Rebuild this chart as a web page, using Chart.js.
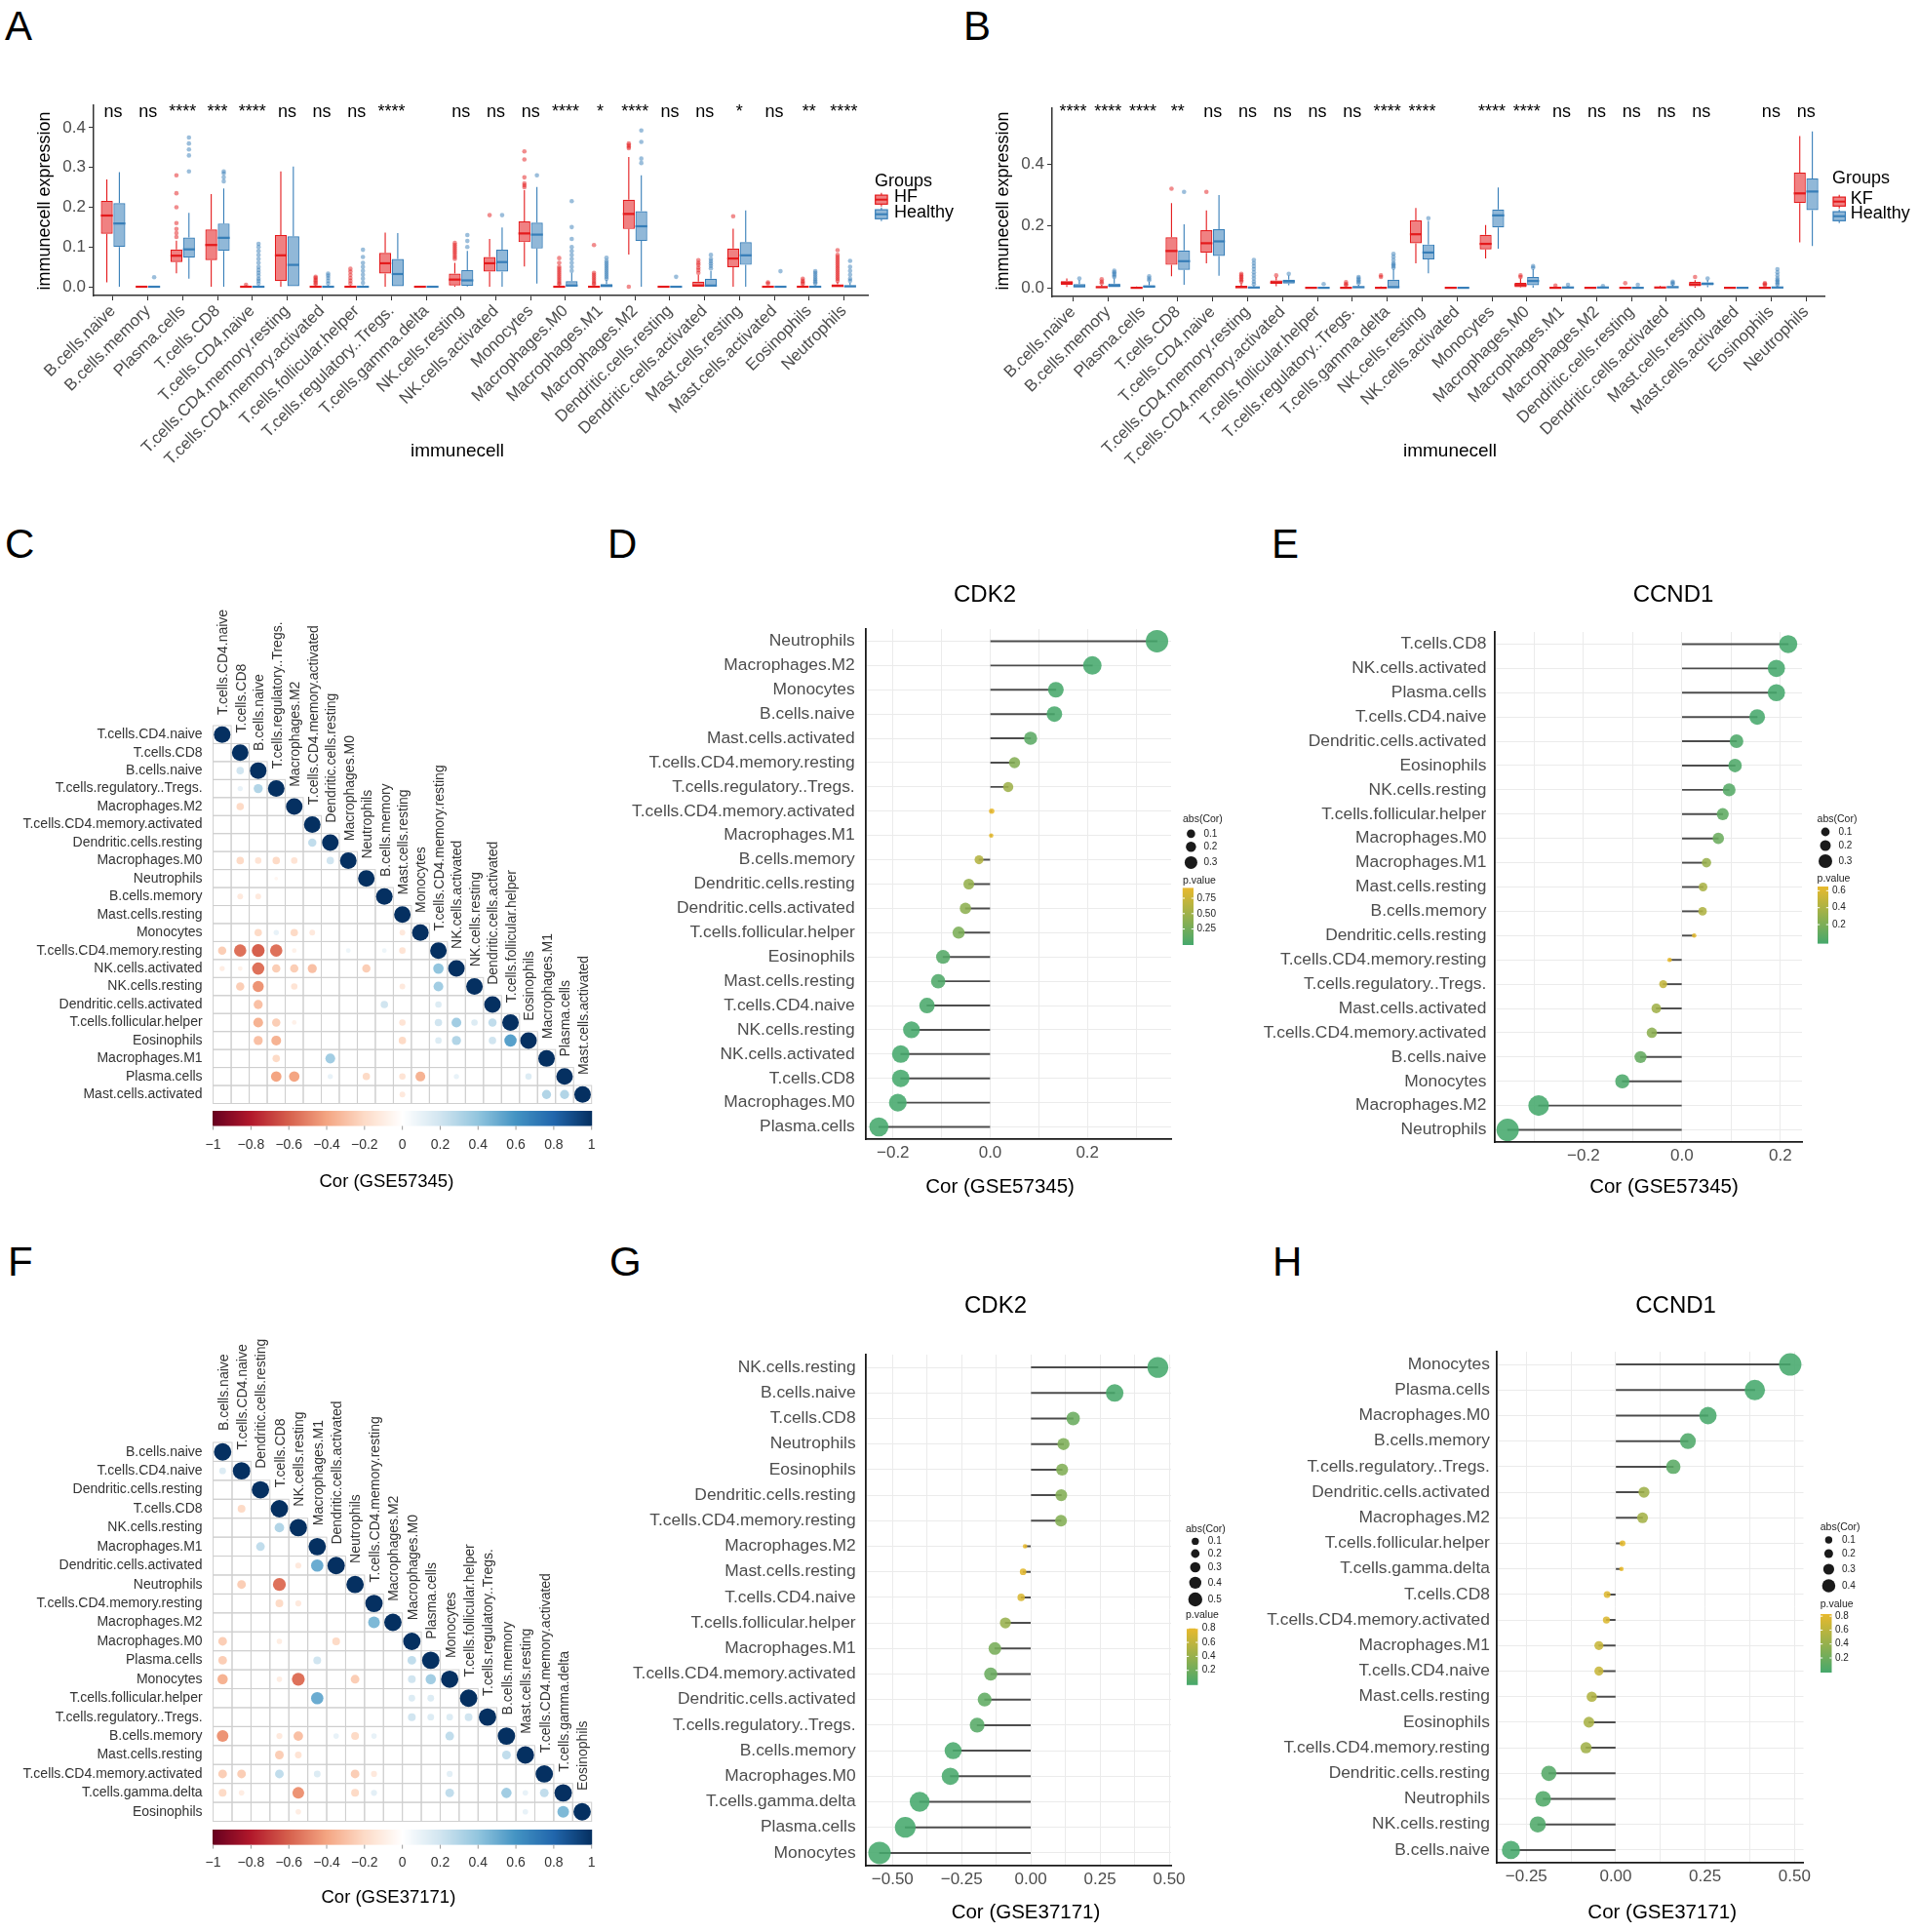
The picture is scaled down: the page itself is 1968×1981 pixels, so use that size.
<!DOCTYPE html>
<html>
<head>
<meta charset="utf-8">
<script src="https://cdn.jsdelivr.net/npm/chart.js@4.4.1/dist/chart.umd.min.js"></script>
<style>
  html, body { margin: 0; padding: 0; background: #fff; overflow: hidden; }
  body { width: 1968px; height: 1981px; position: relative; font-family: "Liberation Sans", Arial, sans-serif; }
  .tag { position: absolute; font-size: 42px; line-height: 1; color: #000; }
</style>
</head>
<body>
<div class="tag" style="left:5px;top:6px">A</div>
<div class="tag" style="left:988px;top:6px">B</div>
<div class="tag" style="left:5px;top:537px">C</div>
<div class="tag" style="left:623px;top:537px">D</div>
<div class="tag" style="left:1304px;top:537px">E</div>
<div class="tag" style="left:8px;top:1273px">F</div>
<div class="tag" style="left:625px;top:1273px">G</div>
<div class="tag" style="left:1305px;top:1273px">H</div>
<script>
// ---------- data: boxplots (A: HF vs Healthy, B: KF vs Healthy) ----------
const immuneCells = ['B.cells.naive','B.cells.memory','Plasma.cells','T.cells.CD8','T.cells.CD4.naive',
  'T.cells.CD4.memory.resting','T.cells.CD4.memory.activated','T.cells.follicular.helper',
  'T.cells.regulatory..Tregs.','T.cells.gamma.delta','NK.cells.resting','NK.cells.activated','Monocytes',
  'Macrophages.M0','Macrophages.M1','Macrophages.M2','Dendritic.cells.resting','Dendritic.cells.activated',
  'Mast.cells.resting','Mast.cells.activated','Eosinophils','Neutrophils'];

const sigA = ['ns','ns','****','***','****','ns','ns','ns','****','','ns','ns','ns','****','*','****','ns','ns','*','ns','**','****'];
const sigB = ['****','****','****','**','ns','ns','ns','ns','ns','****','****','','****','****','ns','ns','ns','ns','ns','','ns','ns'];

const hfQ1  = [0.133,0,0.062,0.067,0,0.014,0,0,0.033,0,0.003,0.038,0.112,0,0,0.145,0,0,0.049,0,0,0];
const hfMed = [0.179,0,0.078,0.105,0,0.079,0,0,0.059,0,0.018,0.059,0.134,0,0,0.183,0,0.003,0.071,0,0,0.002];
const hfQ3  = [0.216,0,0.094,0.144,0.002,0.130,0.002,0.002,0.085,0,0.033,0.075,0.164,0.002,0.002,0.219,0,0.013,0.096,0,0.002,0.006];
const hfLo  = [0.011,0,0.034,0,0,0,0,0,0,0,0,0,0.051,0,0,0.081,0,0,0,0,0,0];
const hfHi  = [0.270,0,0.116,0.233,0.004,0.290,0.004,0.004,0.136,0,0.060,0.120,0.243,0.004,0.004,0.326,0,0.030,0.146,0,0.004,0.012];
const hfOut = [[],[],[0.125,0.135,0.145,0.16,0.2,0.235,0.28],[],[0.005],[],
  [0.006,0.01,0.014,0.018,0.022,0.025],[0.008,0.015,0.022,0.03,0.038,0.045],[],[],
  [0.07,0.075,0.08,0.085,0.09,0.095,0.1,0.105,0.11],[0.18],[0.25,0.255,0.26,0.275,0.32,0.34],
  [0.006,0.01,0.015,0.02,0.025,0.03,0.035,0.04,0.045,0.05,0.06,0.072],
  [0.006,0.01,0.015,0.02,0.025,0.03,0.035,0.105],[0,0.348,0.352,0.356,0.36],[],
  [0.035,0.042,0.048,0.055,0.06,0.067],[0.177],[0.008,0.011],[0.007,0.011,0.015,0.02],
  [0.015,0.02,0.025,0.03,0.035,0.04,0.045,0.05,0.055,0.06,0.065,0.07,0.075,0.08,0.092]];

const hyQ1  = [0.100,0,0.073,0.090,0,0,0,0,0,0,0.002,0.038,0.096,0,0,0.115,0,0,0.055,0,0,0];
const hyMed = [0.159,0,0.094,0.123,0,0.055,0,0,0.032,0,0.016,0.062,0.131,0.003,0.002,0.152,0,0.003,0.079,0,0,0.001];
const hyQ3  = [0.210,0,0.124,0.159,0.002,0.127,0.002,0.002,0.070,0,0.042,0.093,0.161,0.014,0.007,0.190,0,0.020,0.112,0,0.002,0.004];
const hyLo  = [0,0,0.020,0,0,0,0,0,0,0,0,0,0.008,0,0,0,0,0,0,0,0,0];
const hyHi  = [0.288,0,0.186,0.247,0.004,0.302,0.004,0.004,0.135,0,0.090,0.149,0.251,0.035,0.017,0.280,0,0.040,0.192,0,0.004,0.010];
const hyOut = [[],[0.024],[0.29,0.33,0.345,0.36,0.375],[0.265,0.275,0.285,0.29],
  [0.008,0.015,0.02,0.028,0.035,0.042,0.05,0.06,0.07,0.08,0.09,0.1,0.108],[],
  [0.008,0.015,0.022,0.028,0.033],[0.01,0.02,0.03,0.04,0.05,0.06,0.075,0.093],[],[],
  [0.1,0.115,0.13],[0.18],[0.28],[0.04,0.05,0.06,0.07,0.08,0.09,0.1,0.12,0.15,0.215],
  [0.02,0.025,0.03,0.035,0.04,0.045,0.05,0.055,0.06,0.065,0.073],[0.311,0.322,0.364,0.393],[0.025],
  [0.046,0.052,0.058,0.064,0.07,0.08],[],[0.039],[0.008,0.012,0.016,0.02,0.025,0.03,0.035,0.039],
  [0.015,0.02,0.03,0.04,0.05,0.065]];

const kfQ1  = [0.009,0,0,0.074,0.113,0,0.013,0,0,0,0.144,0,0.124,0.002,0,0,0,0,0.005,0,0,0.274];
const kfMed = [0.016,0.002,0,0.119,0.144,0.002,0.017,0,0,0,0.173,0,0.142,0.009,0,0,0,0.001,0.011,0,0,0.305];
const kfQ3  = [0.022,0.005,0.002,0.163,0.186,0.007,0.024,0,0.002,0.002,0.218,0,0.171,0.016,0.002,0,0,0.003,0.019,0,0.002,0.372];
const kfLo  = [0.003,0,0,0.037,0.079,0,0.005,0,0,0,0.079,0,0.095,0,0,0,0,0,0,0,0,0.147];
const kfHi  = [0.030,0.010,0.004,0.274,0.250,0.015,0.035,0,0.004,0.004,0.258,0,0.203,0.030,0.004,0,0,0.006,0.025,0,0.004,0.490];
const kfOut = [[],[0.015,0.02,0.028],[],[0.32],[0.31],[0.02,0.025,0.03,0.035,0.04,0.045],[0.04],[],
  [0.008,0.012,0.018],[0.035,0.04],[],[],[],[0.035,0.04],[0.007],[],[0.015],[],[0.035],[],
  [0.008,0.012,0.015],[]];

const hbQ1  = [0,0,0.001,0.058,0.103,0,0.014,0,0,0,0.092,0,0.195,0.008,0,0,0,0,0.008,0,0,0.251];
const hbMed = [0.005,0.007,0.004,0.086,0.150,0.001,0.021,0,0.002,0.002,0.114,0,0.234,0.022,0.001,0.001,0,0.002,0.013,0,0.001,0.311];
const hbQ3  = [0.012,0.014,0.008,0.121,0.189,0.004,0.026,0.001,0.005,0.026,0.140,0,0.253,0.035,0.003,0.002,0.001,0.005,0.018,0,0.003,0.353];
const hbLo  = [0,0,0,0.010,0.039,0,0.008,0,0,0,0.047,0,0.126,0,0,0,0,0,0.002,0,0,0.135];
const hbHi  = [0.025,0.030,0.020,0.205,0.300,0.008,0.040,0.002,0.010,0.060,0.216,0,0.324,0.060,0.006,0.004,0.002,0.010,0.025,0,0.006,0.505];
const hbOut = [[0.03],[0.035,0.04,0.045,0.05,0.055],[0.025,0.03,0.037],[0.31],[],
  [0.012,0.02,0.03,0.04,0.05,0.06,0.07,0.08,0.09],[0.045],[0.012],[0.015,0.02,0.025,0.03,0.035],
  [0.065,0.07,0.075,0.08,0.09,0.1,0.11],[0.225],[],[],[0.065,0.07],[0.01],[0.006],[0.01],
  [0.012,0.016,0.02],[0.03],[],[0.01,0.015,0.02,0.025,0.03,0.04,0.05,0.06],[]];

// ---------- data: correlation matrices (C: GSE57345, F: GSE37171) ----------
const namesC = ['T.cells.CD4.naive','T.cells.CD8','B.cells.naive','T.cells.regulatory..Tregs.','Macrophages.M2',
  'T.cells.CD4.memory.activated','Dendritic.cells.resting','Macrophages.M0','Neutrophils','B.cells.memory',
  'Mast.cells.resting','Monocytes','T.cells.CD4.memory.resting','NK.cells.activated','NK.cells.resting',
  'Dendritic.cells.activated','T.cells.follicular.helper','Eosinophils','Macrophages.M1','Plasma.cells',
  'Mast.cells.activated'];
// [row, column, r] for the lower triangle, diagonal is 1
const corC = [[2,1,0.2],[3,1,0.1],[3,2,0.3],[4,1,-0.2],[6,5,0.25],
  [7,1,-0.2],[7,2,-0.15],[7,3,-0.2],[7,4,-0.15],[7,6,0.2],[8,3,-0.05],[9,1,-0.12],[9,2,-0.12],
  [11,2,-0.2],[11,3,0.1],[11,4,-0.2],[11,5,-0.12],[11,10,-0.12],
  [12,0,-0.25],[12,1,-0.55],[12,2,-0.6],[12,3,-0.55],[12,4,-0.08],[12,7,0.08],[12,9,0.08],[12,10,-0.15],
  [13,0,-0.1],[13,1,-0.08],[13,2,-0.55],[13,3,-0.25],[13,4,-0.25],[13,5,-0.3],[13,8,-0.25],[13,12,0.4],
  [14,1,-0.25],[14,2,-0.45],[14,4,-0.15],[14,10,-0.12],[14,12,0.35],
  [15,2,-0.3],[15,9,0.2],[15,12,0.15],
  [16,2,-0.35],[16,3,-0.25],[16,4,-0.08],[16,10,-0.15],[16,12,0.2],[16,13,0.35],[16,14,0.15],[16,15,0.25],
  [17,2,-0.3],[17,3,-0.35],[17,10,-0.2],[17,12,0.15],[17,13,0.3],[17,15,0.2],[17,16,0.55],
  [18,3,-0.2],[18,6,0.35],
  [19,3,-0.4],[19,4,-0.4],[19,6,0.1],[19,8,-0.2],[19,10,-0.15],[19,11,-0.35],[19,13,0.1],[19,17,0.15],
  [20,10,-0.12],[20,18,0.3],[20,19,0.3]];

const namesF = ['B.cells.naive','T.cells.CD4.naive','Dendritic.cells.resting','T.cells.CD8','NK.cells.resting',
  'Macrophages.M1','Dendritic.cells.activated','Neutrophils','T.cells.CD4.memory.resting','Macrophages.M2',
  'Macrophages.M0','Plasma.cells','Monocytes','T.cells.follicular.helper','T.cells.regulatory..Tregs.',
  'B.cells.memory','Mast.cells.resting','T.cells.CD4.memory.activated','T.cells.gamma.delta','Eosinophils'];
const corF = [[1,0,0.15],[3,1,-0.2],[4,3,0.3],[5,2,0.25],[6,4,-0.12],[6,5,0.5],[7,1,-0.25],[7,3,-0.55],
  [8,3,-0.2],[8,4,-0.12],[9,8,0.45],[10,0,-0.25],[10,3,-0.1],[10,6,-0.2],
  [11,0,-0.25],[11,5,0.2],[11,10,0.25],
  [12,0,-0.35],[12,3,-0.1],[12,4,-0.55],[12,7,-0.25],[12,10,0.2],[12,11,0.35],
  [13,5,0.5],[13,10,0.15],[13,11,0.15],[14,10,0.2],[14,11,0.15],[14,12,0.15],[14,13,0.2],
  [15,0,-0.45],[15,3,-0.12],[15,4,-0.3],[15,6,0.1],[15,7,-0.2],[15,8,0.1],[15,12,0.25],
  [16,3,-0.25],[16,4,-0.15],[16,15,0.25],
  [17,0,-0.25],[17,1,-0.25],[17,3,0.25],[17,5,0.15],[17,7,-0.25],[17,8,-0.12],[17,12,0.12],
  [18,0,-0.2],[18,1,-0.1],[18,4,-0.45],[18,7,-0.2],[18,8,0.12],[18,12,0.25],[18,15,0.35],[18,16,0.1],[18,17,0.25],
  [19,4,-0.1],[19,16,0.1],[19,18,0.45]];
const cbTicks = [-1,-0.8,-0.6,-0.4,-0.2,0,0.2,0.4,0.6,0.8,1];

// ---------- data: lollipops ----------
const catsD = ['Neutrophils','Macrophages.M2','Monocytes','B.cells.naive','Mast.cells.activated',
  'T.cells.CD4.memory.resting','T.cells.regulatory..Tregs.','T.cells.CD4.memory.activated','Macrophages.M1',
  'B.cells.memory','Dendritic.cells.resting','Dendritic.cells.activated','T.cells.follicular.helper',
  'Eosinophils','Mast.cells.resting','T.cells.CD4.naive','NK.cells.resting','NK.cells.activated',
  'T.cells.CD8','Macrophages.M0','Plasma.cells'];
const corD = [0.343,0.21,0.135,0.132,0.083,0.050,0.037,0.003,0.002,-0.023,-0.044,-0.051,-0.065,-0.097,-0.107,-0.130,-0.162,-0.184,-0.184,-0.190,-0.229];
const pD   = [0.0,0.0,0.01,0.01,0.12,0.35,0.5,0.92,0.9,0.62,0.45,0.4,0.3,0.08,0.05,0.02,0.003,0.001,0.001,0.001,0.0];

const catsE = ['T.cells.CD8','NK.cells.activated','Plasma.cells','T.cells.CD4.naive','Dendritic.cells.activated',
  'Eosinophils','NK.cells.resting','T.cells.follicular.helper','Macrophages.M0','Macrophages.M1',
  'Mast.cells.resting','B.cells.memory','Dendritic.cells.resting','T.cells.CD4.memory.resting',
  'T.cells.regulatory..Tregs.','Mast.cells.activated','T.cells.CD4.memory.activated','B.cells.naive',
  'Monocytes','Macrophages.M2','Neutrophils'];
const corE = [0.216,0.192,0.192,0.153,0.111,0.108,0.096,0.083,0.074,0.050,0.043,0.042,0.025,-0.025,-0.038,-0.052,-0.061,-0.084,-0.121,-0.291,-0.354];
const pE   = [0.0,0.0,0.0,0.003,0.03,0.035,0.06,0.1,0.15,0.33,0.4,0.42,0.62,0.64,0.5,0.36,0.28,0.12,0.02,0.0,0.0];

const catsG = ['NK.cells.resting','B.cells.naive','T.cells.CD8','Neutrophils','Eosinophils',
  'Dendritic.cells.resting','T.cells.CD4.memory.resting','Macrophages.M2','Mast.cells.resting',
  'T.cells.CD4.naive','T.cells.follicular.helper','Macrophages.M1','T.cells.CD4.memory.activated',
  'Dendritic.cells.activated','T.cells.regulatory..Tregs.','B.cells.memory','Macrophages.M0',
  'T.cells.gamma.delta','Plasma.cells','Monocytes'];
const corG = [0.459,0.303,0.153,0.118,0.113,0.110,0.109,-0.021,-0.028,-0.035,-0.092,-0.130,-0.145,-0.167,-0.194,-0.281,-0.291,-0.402,-0.454,-0.547];
const pG   = [0.0,0.01,0.18,0.27,0.29,0.3,0.3,0.8,0.77,0.72,0.4,0.24,0.18,0.13,0.08,0.01,0.01,0.0,0.0,0.0];

const catsH = ['Monocytes','Plasma.cells','Macrophages.M0','B.cells.memory','T.cells.regulatory..Tregs.',
  'Dendritic.cells.activated','Macrophages.M2','T.cells.follicular.helper','T.cells.gamma.delta','T.cells.CD8',
  'T.cells.CD4.memory.activated','Macrophages.M1','T.cells.CD4.naive','Mast.cells.resting','Eosinophils',
  'T.cells.CD4.memory.resting','Dendritic.cells.resting','Neutrophils','NK.cells.resting','B.cells.naive'];
const corH = [0.488,0.389,0.258,0.202,0.161,0.079,0.075,0.019,0.016,-0.024,-0.026,-0.047,-0.047,-0.067,-0.075,-0.083,-0.187,-0.203,-0.218,-0.293];
const pH   = [0.0,0.0,0.01,0.04,0.1,0.45,0.48,0.81,0.83,0.78,0.77,0.66,0.66,0.55,0.5,0.46,0.07,0.05,0.04,0.005];

// ---------- styling ----------
const FONT = '"Liberation Sans", Arial, Helvetica, sans-serif';
const BOX_LINE = ['#E41A1C', '#377EB8'];
const BOX_FILL = ['rgba(228,26,28,0.55)', 'rgba(55,126,184,0.55)'];
const BOX_DOT  = ['rgba(228,26,28,0.5)', 'rgba(55,126,184,0.5)'];
const RDBU = ['#67001F','#B2182B','#D6604D','#F4A582','#FDDBC7','#FFFFFF','#D1E5F0','#92C5DE','#4393C3','#2166AC','#053061'];
const P_LOW = [70,168,108], P_HIGH = [232,185,45];

Chart.defaults.font.family = FONT;
Chart.defaults.animation = false;
Chart.defaults.events = [];
Chart.defaults.plugins.legend.display = false;
Chart.defaults.plugins.tooltip.enabled = false;

function hexRgb(h) { return [1,3,5].map(i => parseInt(h.substr(i, 2), 16)); }
function rdbu(v) {
  const t = (Math.max(-1, Math.min(1, v)) + 1) * 5;
  const i = Math.min(9, Math.floor(t)), f = t - i;
  const a = hexRgb(RDBU[i]), b = hexRgb(RDBU[i + 1]);
  return `rgb(${a.map((c, k) => Math.round(c + (b[k] - c) * f)).join(',')})`;
}
function pColor(t, alpha) {
  t = Math.max(0, Math.min(1, t));
  const c = P_LOW.map((v, k) => Math.round(v + (P_HIGH[k] - v) * t));
  return `rgba(${c.join(',')},${alpha})`;
}
function minus(v, d) { return (v < -1e-9 ? '\u2212' : '') + Math.abs(v).toFixed(d); }

function place(id, x, y, w, h) {
  const c = document.createElement('canvas');
  c.id = id; c.width = w; c.height = h;
  c.style.cssText = `position:absolute;left:${x}px;top:${y}px;width:${w}px;height:${h}px`;
  document.body.appendChild(c);
  return c;
}
function local(a, o) { return { l: a.l - o.x, r: a.r - o.x, t: a.t - o.y, b: a.b - o.y }; }

function textPlugin(o) {
  return {
    id: 'texts',
    afterDraw(chart) {
      const ctx = chart.ctx;
      o.texts.forEach(t => {
        ctx.save();
        ctx.font = `${t.size}px ${FONT}`;
        ctx.fillStyle = t.color || '#000';
        ctx.textAlign = 'center';
        ctx.textBaseline = 'middle';
        ctx.translate(t.x - o.x, t.y - o.y);
        if (t.rot) ctx.rotate(t.rot);
        ctx.fillText(t.text, 0, 0);
        ctx.restore();
      });
    }
  };
}

// ---------- boxplot panels ----------
function boxPlugin(o, stats) {
  return {
    id: 'boxes',
    beforeDatasetsDraw(chart) {
      const ctx = chart.ctx, y = chart.scales.y;
      stats.forEach((s, k) => {
        ctx.save();
        ctx.strokeStyle = BOX_LINE[k];
        ctx.lineWidth = 1.1;
        chart.getDatasetMeta(k).data.forEach((el, i) => {
          ctx.beginPath();
          ctx.moveTo(el.x, y.getPixelForValue(s.lo[i])); ctx.lineTo(el.x, y.getPixelForValue(s.q1[i]));
          ctx.moveTo(el.x, y.getPixelForValue(s.q3[i])); ctx.lineTo(el.x, y.getPixelForValue(s.hi[i]));
          ctx.stroke();
        });
        ctx.restore();
      });
    },
    afterDatasetsDraw(chart) {
      const ctx = chart.ctx, x = chart.scales.x, y = chart.scales.y;
      stats.forEach((s, k) => {
        ctx.save();
        chart.getDatasetMeta(k).data.forEach((el, i) => {
          ctx.fillStyle = BOX_DOT[k];
          s.out[i].forEach(v => {
            ctx.beginPath();
            ctx.arc(el.x, y.getPixelForValue(v), 2.3, 0, Math.PI * 2);
            ctx.fill();
          });
          ctx.strokeStyle = BOX_LINE[k];
          ctx.lineWidth = 2.2;
          const ym = y.getPixelForValue(s.med[i]);
          ctx.beginPath();
          ctx.moveTo(el.x - el.width / 2, ym); ctx.lineTo(el.x + el.width / 2, ym);
          ctx.stroke();
        });
        ctx.restore();
      });
      // significance marks
      ctx.save();
      ctx.font = `18px ${FONT}`;
      ctx.fillStyle = '#000';
      ctx.textAlign = 'center';
      ctx.textBaseline = 'alphabetic';
      o.sig.forEach((t, i) => ctx.fillText(t, x.getPixelForValue(i), y.getPixelForValue(o.sigY)));
      // legend
      const L = o.legend, ox = o.x, oy = o.y;
      ctx.textAlign = 'left';
      ctx.textBaseline = 'middle';
      ctx.fillText('Groups', L.x - ox, L.ty - oy);
      o.groups.forEach((g, k) => {
        const kx = L.kx - ox, ky = L.ky[k] - oy;
        ctx.strokeStyle = BOX_LINE[k];
        ctx.lineWidth = 1.1;
        ctx.beginPath(); ctx.moveTo(kx + 6.2, ky - 7); ctx.lineTo(kx + 6.2, ky + 7); ctx.stroke();
        ctx.fillStyle = '#fff'; ctx.fillRect(kx, ky - 4.6, 12.4, 9.2);
        ctx.fillStyle = BOX_FILL[k]; ctx.fillRect(kx, ky - 4.6, 12.4, 9.2);
        ctx.lineWidth = 1.2; ctx.strokeRect(kx, ky - 4.6, 12.4, 9.2);
        ctx.lineWidth = 2; ctx.beginPath(); ctx.moveTo(kx, ky); ctx.lineTo(kx + 12.4, ky); ctx.stroke();
        ctx.fillStyle = '#000';
        ctx.fillText(g, L.tx - ox, L.ly[k] - oy);
      });
      ctx.restore();
    }
  };
}

function boxPanel(o) {
  const c = place(o.id, o.x, o.y, o.w, o.h);
  const A = local(o.area, o);
  const stats = o.stats;
  new Chart(c, {
    type: 'bar',
    data: {
      labels: o.cats.map((_, i) => i),
      datasets: stats.map((s, k) => ({
        label: o.groups[k],
        data: s.q1.map((v, i) => [v, s.q3[i]]),
        backgroundColor: BOX_FILL[k], borderColor: BOX_LINE[k], borderWidth: 1.2, borderSkipped: false,
        categoryPercentage: 0.72, barPercentage: 0.95
      }))
    },
    options: {
      responsive: false, devicePixelRatio: 1,
      layout: { padding: { left: 0, top: A.t, right: o.w - A.r, bottom: 0 } },
      scales: {
        x: {
          type: 'linear', min: o.xMin, max: o.xMax, offset: false,
          afterBuildTicks: s => { s.ticks = o.cats.map((_, i) => ({ value: i })); },
          afterFit: s => { s.height = o.h - A.b; },
          ticks: { autoSkip: false, minRotation: 45, maxRotation: 45, padding: 1, color: '#4d4d4d',
                   font: { size: 17 }, callback: v => o.cats[v] },
          grid: { drawOnChartArea: false, tickLength: 5, color: '#333', offset: false },
          border: { color: '#333', width: 1.5 }
        },
        y: {
          type: 'linear', min: o.yMin, max: o.yMax,
          afterFit: s => { s.width = A.l; },
          ticks: { stepSize: o.yStep, includeBounds: false, padding: 3, color: '#4d4d4d',
                   font: { size: 17 }, callback: v => v.toFixed(1) },
          grid: { drawOnChartArea: false, tickLength: 5, color: '#333' },
          border: { color: '#333', width: 1.5 }
        }
      }
    },
    plugins: [boxPlugin(o, stats), textPlugin(o)]
  });
}

// ---------- correlation matrix panels ----------
function corrPlugin(o) {
  return {
    id: 'corrGrid',
    beforeDatasetsDraw(chart) {
      const { x, y } = chart.scales, ctx = chart.ctx, n = o.names.length;
      const cw = x.width / n, ch = y.height / n;
      ctx.save();
      ctx.strokeStyle = '#cfcfcf';
      ctx.lineWidth = 1;
      for (let i = 0; i < n; i++) {
        for (let j = 0; j <= i; j++) {
          ctx.strokeRect(x.getPixelForValue(j) - cw / 2, y.getPixelForValue(i) - ch / 2, cw, ch);
        }
      }
      ctx.restore();
    },
    afterDraw(chart) {
      const { x, y, cb } = chart.scales, ctx = chart.ctx, n = o.names.length;
      const ch = y.height / n;
      ctx.save();
      // column labels along the diagonal
      ctx.font = `14px ${FONT}`;
      ctx.fillStyle = '#333';
      ctx.textAlign = 'left';
      ctx.textBaseline = 'middle';
      o.names.forEach((nm, j) => {
        ctx.save();
        ctx.translate(x.getPixelForValue(j) + 1.5, y.getPixelForValue(j) - ch / 2 - o.labelGap);
        ctx.rotate(-Math.PI / 2);
        ctx.fillText(nm, 0, 0);
        ctx.restore();
      });
      // colour bar
      const y0 = o.cbTop - o.y, x0 = cb.getPixelForValue(-1), x1 = cb.getPixelForValue(1);
      for (let px = Math.floor(x0); px < x1; px++) {
        ctx.fillStyle = rdbu(cb.getValueForPixel(px + 0.5));
        ctx.fillRect(px, y0, 1.2, o.cbH);
      }
      ctx.strokeStyle = '#9a9a9a';
      ctx.lineWidth = 1;
      cbTicks.forEach(v => {
        const px = cb.getPixelForValue(v);
        ctx.beginPath(); ctx.moveTo(px, y0 + o.cbH); ctx.lineTo(px, y0 + o.cbH + 4); ctx.stroke();
      });
      ctx.restore();
    }
  };
}

function corrPanel(o) {
  const c = place(o.id, o.x, o.y, o.w, o.h);
  const A = local(o.area, o);
  const n = o.names.length;
  const cell = (A.r - A.l) / n;
  const pts = o.names.map(nm => ({ x: nm, y: nm, v: 1 }));
  o.cells.forEach(([r, k, v]) => pts.push({ x: o.names[k], y: o.names[r], v }));
  new Chart(c, {
    type: 'scatter',
    data: {
      datasets: [{
        data: pts, xAxisID: 'x', yAxisID: 'y',
        pointRadius: ctx => 0.46 * cell * Math.sqrt(Math.abs(ctx.raw.v)),
        pointBackgroundColor: ctx => rdbu(ctx.raw.v),
        pointBorderWidth: 0
      }]
    },
    options: {
      responsive: false, devicePixelRatio: 1,
      layout: { padding: { left: 0, top: A.t, right: o.w - A.r, bottom: 0 } },
      scales: {
        x: { type: 'category', labels: o.names, offset: true, display: false },
        y: {
          type: 'category', labels: o.names, offset: true,
          afterFit: s => { s.width = A.l; },
          ticks: { padding: 11, color: '#333', font: { size: 14 }, autoSkip: false },
          grid: { display: false, drawTicks: false }, border: { display: false }
        },
        cb: {
          type: 'linear', axis: 'x', position: 'bottom', min: -1, max: 1,
          afterBuildTicks: s => { s.ticks = cbTicks.map(v => ({ value: v })); },
          afterFit: s => { s.height = o.h - A.b; },
          ticks: { padding: 0, color: '#333', font: { size: 14 },
                   callback: v => (v < 0 ? '\u2212' : '') + String(Math.abs(v)) },
          // tick marks are hidden; their length only pushes the labels below the colour bar
          grid: { display: false, drawTicks: true, tickLength: 34 }, border: { display: false }
        }
      }
    },
    plugins: [corrPlugin(o), textPlugin(o)]
  });
}

// ---------- lollipop panels ----------
function lolliLegend(o) {
  return {
    id: 'lolliLegend',
    afterDraw(chart) {
      const L = o.legend, ctx = chart.ctx, ox = o.x, oy = o.y;
      ctx.save();
      ctx.fillStyle = '#222';
      ctx.textAlign = 'left';
      ctx.textBaseline = 'middle';
      ctx.font = `10.5px ${FONT}`;
      ctx.fillText('abs(Cor)', L.tx - ox, L.ty - oy);
      ctx.font = `10px ${FONT}`;
      L.sizes.forEach(([lab, yy, r]) => {
        ctx.fillStyle = '#1a1a1a';
        ctx.beginPath(); ctx.arc(L.dx - ox, yy - oy, r, 0, Math.PI * 2); ctx.fill();
        ctx.fillStyle = '#222';
        ctx.fillText(lab, L.lx - ox, yy - oy);
      });
      ctx.font = `10.5px ${FONT}`;
      ctx.fillText('p.value', L.tx - ox, L.py - oy);
      const [bx0, by0, bx1, by1] = L.bar.map((v, i) => v - (i % 2 ? oy : ox));
      const g = ctx.createLinearGradient(0, by1, 0, by0);
      g.addColorStop(0, pColor(0, 1));
      g.addColorStop(1, pColor(1, 1));
      ctx.fillStyle = g;
      ctx.fillRect(bx0, by0, bx1 - bx0, by1 - by0);
      ctx.font = `10px ${FONT}`;
      ctx.strokeStyle = '#fff';
      ctx.lineWidth = 1;
      L.ticks.forEach(([lab, p]) => {
        const yy = by1 - (p - L.pmin) / (o.pMax - L.pmin) * (by1 - by0);
        ctx.beginPath();
        ctx.moveTo(bx0, yy); ctx.lineTo(bx0 + 2.2, yy);
        ctx.moveTo(bx1 - 2.2, yy); ctx.lineTo(bx1, yy);
        ctx.stroke();
        ctx.fillStyle = '#222';
        ctx.fillText(lab, L.plx - ox, yy);
      });
      ctx.restore();
    }
  };
}

function lolliPanel(o) {
  const c = place(o.id, o.x, o.y, o.w, o.h);
  const A = local(o.area, o);
  const absv = o.cor.map(Math.abs);
  const aMin = Math.min(...absv), aMax = Math.max(...absv);
  new Chart(c, {
    type: 'bar',
    data: {
      labels: o.cats,
      datasets: [
        {
          type: 'scatter', order: 1,
          data: o.cats.map((nm, i) => ({ x: o.cor[i], y: nm })),
          pointRadius: ctx => 2.3 + 9.2 * Math.sqrt((absv[ctx.dataIndex] - aMin) / (aMax - aMin)),
          pointBackgroundColor: ctx => pColor(o.p[ctx.dataIndex] / o.pMax, 0.88),
          pointBorderWidth: 0
        },
        {
          type: 'bar', indexAxis: 'y', order: 2, data: o.cor,
          backgroundColor: 'rgba(35,35,35,0.8)', barThickness: 1.3
        }
      ]
    },
    options: {
      responsive: false, devicePixelRatio: 1,
      layout: { padding: { left: 0, top: A.t, right: o.w - A.r, bottom: 0 } },
      scales: {
        x: {
          type: 'linear', min: o.xMin, max: o.xMax, offset: false,
          afterFit: s => { s.height = o.h - A.b; },
          ticks: {
            stepSize: o.step, includeBounds: false, padding: 4, color: '#4d4d4d', font: { size: 17 },
            minRotation: 0, maxRotation: 0, autoSkip: false,
            callback: v => {
              const q = v / o.major;
              return Math.abs(q - Math.round(q)) > 1e-6 ? '' : minus(v, o.dec);
            }
          },
          grid: { color: '#ebebeb', lineWidth: 1, drawTicks: false, offset: false },
          border: { color: '#1a1a1a', width: 1.8 }
        },
        y: {
          type: 'category', offset: true,
          afterFit: s => { s.width = A.l; },
          ticks: { padding: o.lpad, color: '#4d4d4d', font: { size: 17.4 }, autoSkip: false },
          grid: { color: '#ebebeb', lineWidth: 1, drawTicks: false, offset: false },
          border: { color: '#1a1a1a', width: 1.8 }
        }
      }
    },
    plugins: [lolliLegend(o), textPlugin(o)]
  });
}

// ---------- build panels ----------
boxPanel({
  id: 'cA', x: 0, y: 50, w: 990, h: 430,
  area: { l: 96, r: 890, t: 108, b: 303 },
  cats: immuneCells, groups: ['HF', 'Healthy'],
  stats: [
    { q1: hfQ1, med: hfMed, q3: hfQ3, lo: hfLo, hi: hfHi, out: hfOut },
    { q1: hyQ1, med: hyMed, q3: hyQ3, lo: hyLo, hi: hyHi, out: hyOut }
  ],
  xMin: -0.56, xMax: 21.69, yMin: -0.022, yMax: 0.456, yStep: 0.1,
  sig: sigA, sigY: 0.427,
  legend: { x: 897, ty: 186, kx: 897.7, ky: [204.7, 219.7], tx: 917, ly: [202, 218] },
  texts: [
    { text: 'immunecell expression', x: 46, y: 206, size: 18, rot: -Math.PI / 2 },
    { text: 'immunecell', x: 469, y: 463, size: 19 }
  ]
});

boxPanel({
  id: 'cB', x: 990, y: 50, w: 978, h: 430,
  area: { l: 1079, r: 1871.5, t: 111, b: 304 },
  cats: immuneCells, groups: ['KF', 'Healthy'],
  stats: [
    { q1: kfQ1, med: kfMed, q3: kfQ3, lo: kfLo, hi: kfHi, out: kfOut },
    { q1: hbQ1, med: hbMed, q3: hbQ3, lo: hbLo, hi: hbHi, out: hbOut }
  ],
  xMin: -0.6, xMax: 21.54, yMin: -0.028, yMax: 0.58, yStep: 0.2,
  sig: sigB, sigY: 0.553,
  legend: { x: 1879, ty: 183.3, kx: 1880, ky: [206.7, 221.7], tx: 1897.7, ly: [204, 219] },
  texts: [
    { text: 'immunecell expression', x: 1028.7, y: 206, size: 18, rot: -Math.PI / 2 },
    { text: 'immunecell', x: 1487, y: 463, size: 19 }
  ]
});

corrPanel({
  id: 'cC', x: 0, y: 560, w: 620, h: 680,
  area: { l: 218.6, r: 606.7, t: 744, b: 1131.5 },
  names: namesC, cells: corC, labelGap: 11, cbTop: 1139, cbH: 15.5,
  texts: [{ text: 'Cor (GSE57345)', x: 396.4, y: 1212, size: 18.5 }]
});

corrPanel({
  id: 'cF', x: 0, y: 1290, w: 620, h: 691,
  area: { l: 218.6, r: 606.7, t: 1479, b: 1867.5 },
  names: namesF, cells: corF, labelGap: 12, cbTop: 1876, cbH: 15.6,
  texts: [{ text: 'Cor (GSE37171)', x: 398.4, y: 1946, size: 18.5 }]
});

lolliPanel({
  id: 'cD', x: 620, y: 580, w: 660, h: 660,
  area: { l: 887.5, r: 1201, t: 645, b: 1168 },
  cats: catsD, cor: corD, p: pD, pMax: 0.918,
  xMin: -0.2567, xMax: 0.372, step: 0.1, major: 0.2, dec: 1, lpad: 10.8,
  legend: { tx: 1213, ty: 840.6, dx: 1221.4, lx: 1234.5,
            sizes: [['0.1', 854.9, 4.3], ['0.2', 868.3, 5.2], ['0.3', 884.4, 6.5]],
            py: 903, bar: [1212.8, 910.4, 1224, 969], pmin: -0.01, plx: 1227.5,
            ticks: [['0.75', 0.75], ['0.50', 0.5], ['0.25', 0.25]] },
  texts: [{ text: 'CDK2', x: 1010, y: 610, size: 24 }, { text: 'Cor (GSE57345)', x: 1025.6, y: 1217, size: 20.5 }]
});

lolliPanel({
  id: 'cE', x: 1290, y: 580, w: 678, h: 660,
  area: { l: 1533, r: 1848, t: 648, b: 1171 },
  cats: catsE, cor: corE, p: pE, pMax: 0.65,
  xMin: -0.38, xMax: 0.244, step: 0.1, major: 0.2, dec: 1, lpad: 8.6,
  legend: { tx: 1863.6, ty: 839.7, dx: 1872, lx: 1885.5,
            sizes: [['0.1', 853, 4.4], ['0.2', 867, 5.5], ['0.3', 883, 7]],
            py: 901, bar: [1864, 909, 1875, 967.6], pmin: -0.025, plx: 1879,
            ticks: [['0.6', 0.6], ['0.4', 0.4], ['0.2', 0.2]] },
  texts: [{ text: 'CCND1', x: 1716, y: 610, size: 24 }, { text: 'Cor (GSE57345)', x: 1706.5, y: 1217, size: 20.5 }]
});

lolliPanel({
  id: 'cG', x: 620, y: 1300, w: 660, h: 681,
  area: { l: 887.5, r: 1201, t: 1389, b: 1913 },
  cats: catsG, cor: corG, p: pG, pMax: 0.8,
  xMin: -0.598, xMax: 0.507, step: 0.125, major: 0.25, dec: 2, lpad: 9.9,
  legend: { tx: 1216, ty: 1568, dx: 1225.8, lx: 1238.8,
            sizes: [['0.1', 1580.4, 3.7], ['0.2', 1593, 4.4], ['0.3', 1607, 5.3], ['0.4', 1622.9, 6.2], ['0.5', 1640, 7.2]],
            py: 1656, bar: [1217, 1669.7, 1228.4, 1727.8], pmin: -0.01, plx: 1232.7,
            ticks: [['0.8', 0.8], ['0.6', 0.6], ['0.4', 0.4], ['0.2', 0.2]] },
  texts: [{ text: 'CDK2', x: 1021, y: 1339.4, size: 24 }, { text: 'Cor (GSE37171)', x: 1052, y: 1961.7, size: 20.5 }]
});

lolliPanel({
  id: 'cH', x: 1290, y: 1300, w: 678, h: 681,
  area: { l: 1534.5, r: 1849.5, t: 1386, b: 1910 },
  cats: catsH, cor: corH, p: pH, pMax: 0.83,
  xMin: -0.334, xMax: 0.525, step: 0.125, major: 0.25, dec: 2, lpad: 6.6,
  legend: { tx: 1866.7, ty: 1565.7, dx: 1875.4, lx: 1889,
            sizes: [['0.1', 1579, 3.7], ['0.2', 1593, 4.5], ['0.3', 1609, 5.6], ['0.4', 1626, 6.8]],
            py: 1645, bar: [1867, 1655, 1878.5, 1715], pmin: -0.01, plx: 1882,
            ticks: [['0.8', 0.8], ['0.6', 0.6], ['0.4', 0.4], ['0.2', 0.2]] },
  texts: [{ text: 'CCND1', x: 1718.6, y: 1339.4, size: 24 }, { text: 'Cor (GSE37171)', x: 1704.7, y: 1961.7, size: 20.5 }]
});
</script>
</body>
</html>
